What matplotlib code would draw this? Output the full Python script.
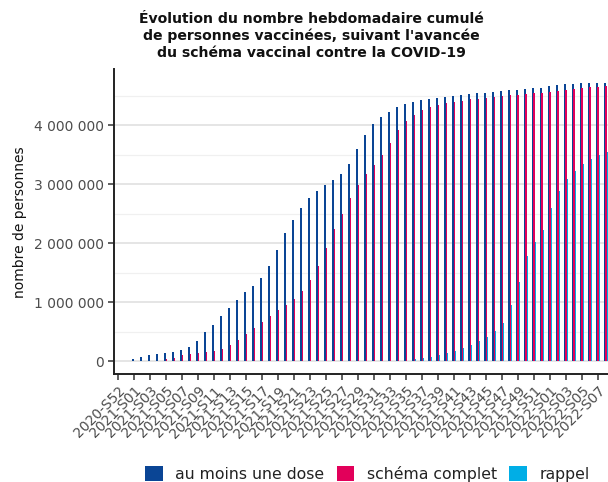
import matplotlib
matplotlib.use("Agg")
import matplotlib.pyplot as plt
import numpy as np
from matplotlib.ticker import FuncFormatter, MultipleLocator
from matplotlib.patches import Patch

# ---- data ----
weeks = (["2020-S52", "2020-S53"]
         + [f"2021-S{i:02d}" for i in range(1, 53)]
         + [f"2022-S{i:02d}" for i in range(1, 9)])

au_moins_une_dose = [
    300, 4000, 29000, 63000, 97000, 124000, 136000, 158000, 187000, 233000,
    340000, 492000, 611000, 764000, 895000, 1030000, 1166000, 1273000, 1415000, 1607000,
    1890000, 2168000, 2388000, 2595000, 2762000, 2886000, 2983000, 3078000, 3180000, 3350000,
    3594000, 3837000, 4024000, 4148000, 4233000, 4312000, 4368000, 4397000, 4431000, 4453000,
    4470000, 4487000, 4499000, 4516000, 4533000, 4545000, 4550000, 4562000, 4579000, 4596000,
    4601000, 4613000, 4630000, 4635000, 4664000, 4686000, 4703000, 4708000, 4715000, 4720000,
    4720000, 4722000]

schema_complet = [
    0, 0, 0, 0, 0, 4000, 35000, 55000, 100000, 127000,
    137000, 160000, 178000, 209000, 277000, 362000, 458000, 555000, 662000, 764000,
    861000, 951000, 1053000, 1197000, 1375000, 1613000, 1918000, 2241000, 2501000, 2762000,
    2993000, 3170000, 3322000, 3497000, 3701000, 3922000, 4080000, 4182000, 4256000, 4307000,
    4352000, 4380000, 4402000, 4419000, 4443000, 4453000, 4465000, 4482000, 4499000, 4511000,
    4521000, 4538000, 4550000, 4555000, 4572000, 4589000, 4606000, 4623000, 4640000, 4652000,
    4657000, 4669000]

rappel = [
    0, 0, 0, 0, 0, 0, 0, 0, 0, 0,
    0, 0, 0, 0, 0, 0, 0, 0, 0, 0,
    0, 0, 0, 0, 0, 0, 0, 0, 0, 0,
    0, 0, 0, 0, 0, 0, 8000, 34000, 51000, 70000,
    99000, 134000, 175000, 226000, 280000, 334000, 405000, 502000, 648000, 954000,
    1346000, 1777000, 2012000, 2227000, 2595000, 2889000, 3088000, 3229000, 3342000, 3433000,
    3500000, 3543000]

series_names = ["au moins une dose", "schéma complet", "rappel"]
colors = ["#0a4595", "#e2005a", "#00aee6"]

title = ("Évolution du nombre hebdomadaire cumulé\n"
         "de personnes vaccinées, suivant l'avancée\n"
         "du schéma vaccinal contre la COVID-19")

# ---- figure ----
W, H = 608, 482
fig = plt.figure(figsize=(W / 100, H / 100), dpi=100)
ax_left, ax_right, ax_top, ax_bottom = 113.5, 611.0, 69.4, 374.0
ax = fig.add_axes([ax_left / W, 1 - ax_bottom / H,
                   (ax_right - ax_left) / W, (ax_bottom - ax_top) / H])

x = np.arange(len(weeks))
bw = 0.18
offsets = [-0.15, 0.0, 0.15]
for vals, off, col, name in zip([au_moins_une_dose, schema_complet, rappel],
                                offsets, colors, series_names):
    ax.bar(x + off, vals, width=bw, color=col, linewidth=0, label=name, zorder=3)

ax.set_xlim(-0.6, len(weeks) - 1 + 0.6)
ax.set_ylim(-220000, 4950000)

ax.yaxis.set_major_locator(MultipleLocator(1000000))
ax.yaxis.set_minor_locator(MultipleLocator(500000))
ax.yaxis.set_major_formatter(FuncFormatter(lambda v, p: f"{int(round(v)):,}".replace(",", " ")))
ax.grid(axis="y", which="major", color="#e3e3e3", linewidth=1.3, zorder=0)
ax.grid(axis="y", which="minor", color="#f0f0f0", linewidth=0.9, zorder=0)
ax.set_axisbelow(True)

ticks = x[::2]
ax.set_xticks(ticks)
ax.set_xticklabels([weeks[i] for i in ticks], rotation=45, ha="right",
                   rotation_mode="anchor", fontsize=10, color="#4d4d4d")
ax.tick_params(axis="x", length=4, width=1.1, color="#333333", pad=3)
ax.tick_params(axis="y", which="major", length=4, width=1.1, color="#333333",
               labelsize=10, labelcolor="#4d4d4d", pad=3)
ax.tick_params(axis="y", which="minor", length=0)

for s in ["top", "right"]:
    ax.spines[s].set_visible(False)
for s in ["left", "bottom"]:
    ax.spines[s].set_linewidth(1.4)
    ax.spines[s].set_color("#222222")

ax.set_ylabel("nombre de personnes", fontsize=10, color="#111111", labelpad=5)

fig.text(311 / W, 1 - 12 / H, title, ha="center", va="top", fontsize=10.1,
         fontweight="bold", linespacing=1.24, color="#111111")

handles = [Patch(facecolor=c, edgecolor="none") for c in colors]
fig.legend(handles, series_names, loc="center", ncol=3, frameon=False,
           bbox_to_anchor=(367.5 / W, 1 - 474 / H), fontsize=11.3,
           handlelength=1.1, handleheight=1.1, handletextpad=0.8,
           columnspacing=0.8, labelcolor="#222222")

fig.savefig("out.png", dpi=100)
